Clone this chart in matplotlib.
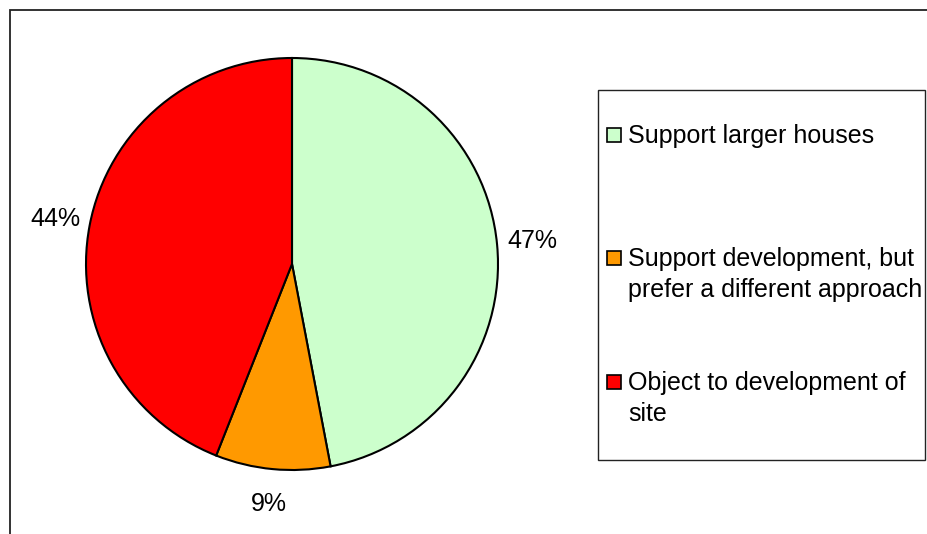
import matplotlib.pyplot as plt
from matplotlib.patches import Rectangle

# survey responses, share of respondents (%)
categories = ['Support larger houses',
              'Support development, but\nprefer a different approach',
              'Object to development of\nsite']
shares = [47, 9, 44]
colours = ['#CCFFCC', '#FF9900', '#FF0000']

plt.rcParams['font.family'] = ['Liberation Sans', 'DejaVu Sans']

W, H = 927, 534
fig = plt.figure(figsize=(W / 100, H / 100), dpi=100)

def fx(px):
    return px / W

def fy(py):
    return 1 - py / H

# outer chart frame (runs off the right and bottom)
fig.add_artist(Rectangle((fx(10), -0.1), 1.2, fy(10) + 0.1, transform=fig.transFigure,
                         fill=False, edgecolor='#222222', linewidth=1.3))

# pie
cx, cy, r = 292, 264, 206
ax = fig.add_axes([fx(cx - r), fy(cy + r), 2 * r / W, 2 * r / H])
wedges, texts, autotexts = ax.pie(shares, colors=colours, startangle=90, counterclock=False,
                                  autopct='%1.0f%%', pctdistance=1.17,
                                  wedgeprops=dict(edgecolor='black', linewidth=1.5),
                                  textprops=dict(fontsize=18, color='black'))
for t in autotexts:
    t.set_clip_on(False)
ax.set_xlim(-1, 1)
ax.set_ylim(-1, 1)
ax.set_aspect('equal')
ax.axis('off')

# legend box
lx0, ly0, lx1, ly1 = 598, 90, 925, 460
fig.add_artist(Rectangle((fx(lx0), fy(ly1)), fx(lx1) - fx(lx0), fy(ly0) - fy(ly1),
                         transform=fig.transFigure, fill=False,
                         edgecolor='#222222', linewidth=1.0))

baselines = [143, 266, 390]
line_step = 31
for label, colour, base in zip(categories, colours, baselines):
    fig.add_artist(Rectangle((fx(607), fy(base - 1)), 14 / W, 14 / H,
                             transform=fig.transFigure, facecolor=colour,
                             edgecolor='black', linewidth=1.2))
    for i, line in enumerate(label.split('\n')):
        fig.text(fx(628), fy(base + i * line_step), line, fontsize=18,
                 ha='left', va='baseline')

fig.savefig('out.png', dpi=100)
